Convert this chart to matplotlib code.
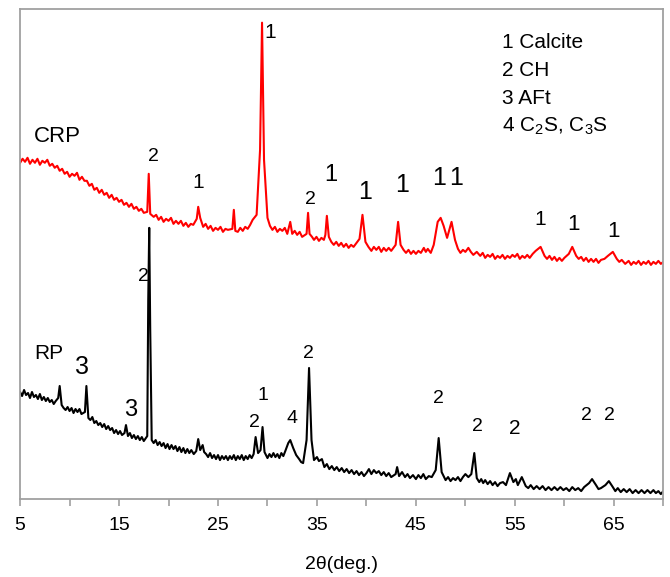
"""
XRD patterns of RP and CRP pastes
"""
import matplotlib
matplotlib.use('Agg')
import matplotlib.pyplot as plt

plt.rcParams['font.family'] = ['Liberation Sans', 'DejaVu Sans']
plt.rcParams['mathtext.fontset'] = 'custom'
plt.rcParams['mathtext.rm'] = 'Liberation Sans'
plt.rcParams['mathtext.it'] = 'Liberation Sans'
plt.rcParams['mathtext.default'] = 'regular'

# CRP pattern (2theta in deg, intensity in a.u., offset trace)
crp_2theta = [5.0, 5.25, 5.5, 5.75, 6.0, 6.25, 6.5, 6.75, 7.0, 7.25, 7.5, 7.75, 8.0, 8.25,
              8.5, 8.75, 9.0, 9.25, 9.5, 9.75, 10.0, 10.25, 10.5, 10.75, 11.0, 11.25, 11.5,
              11.75, 12.0, 12.25, 12.5, 12.75, 13.0, 13.25, 13.5, 13.75, 14.0, 14.25, 14.5,
              14.75, 15.0, 15.25, 15.5, 15.75, 16.0, 16.25, 16.5, 16.75, 17.0, 17.25, 17.5,
              17.85, 18.0, 18.15, 18.5, 18.75, 19.0, 19.25, 19.5, 19.75, 20.0, 20.25, 20.5,
              20.75, 21.0, 21.25, 21.5, 21.75, 22.0, 22.25, 22.5,
              22.85, 23.0, 23.2, 23.5, 23.75, 24.0, 24.25, 24.5, 24.75, 25.0, 25.25, 25.5,
              25.75, 26.0, 26.45, 26.6, 26.75,
              27.0, 27.25, 27.5, 27.75, 28.0, 28.25, 28.5, 28.9, 29.25, 29.45, 29.65, 30.0,
              30.25, 30.5, 30.75, 31.0, 31.25, 31.5, 31.75,
              32.0, 32.3, 32.5, 32.75, 33.0, 33.25, 33.5, 33.95, 34.1, 34.25, 34.5, 34.7,
              34.95, 35.2, 35.45, 35.7, 35.85,
              36.0, 36.2, 36.45, 36.7, 36.95, 37.2, 37.45, 37.7, 37.95, 38.2, 38.45, 38.7,
              39.0, 39.3, 39.6, 39.9, 40.2, 40.5, 40.75, 41.0,
              41.25, 41.5, 41.75, 42.0, 42.25, 42.5, 42.95, 43.2, 43.45, 43.75, 44.0, 44.25,
              44.5, 44.75, 45.0, 45.25, 45.5, 45.8, 46.0, 46.2, 46.5,
              46.8, 47.2, 47.5, 47.8, 48.15, 48.6, 48.95, 49.25, 49.5, 49.75, 50.0, 50.3,
              50.55, 50.8, 51.15, 51.5, 51.75,
              52.0, 52.25, 52.5, 52.75, 53.0, 53.25, 53.5, 53.75, 54.0, 54.25, 54.5, 54.75,
              55.0, 55.25, 55.5, 55.75, 56.0, 56.25, 56.5, 56.8, 57.1, 57.6,
              58.0, 58.25, 58.5, 58.75, 59.0, 59.25, 59.5, 59.75, 60.0, 60.45, 60.8, 61.2,
              61.45, 61.7, 61.95, 62.2, 62.45, 62.7, 62.95, 63.2,
              63.45, 63.7, 64.05, 64.4, 64.9, 65.3, 65.55, 65.8, 66.15, 66.5, 66.75, 67.0,
              67.25, 67.5, 67.75, 68.0, 68.25, 68.5, 68.75, 69.0, 69.25, 69.5, 69.75,
              70.0]
crp_intensity = [336, 340, 337, 341, 335, 339, 336, 340, 334, 338, 336, 339, 333, 335,
                 331, 333, 328, 330, 325, 327, 322, 325, 323, 326, 319, 322, 318,
                 318, 313, 315, 309, 311, 306, 309, 304, 306, 301, 304, 299,
                 301, 297, 299, 294, 296, 292, 295, 290, 292, 288, 290, 286,
                 287, 325, 285, 282, 284, 279, 282, 277, 280, 278, 281, 275,
                 278, 275, 278, 273, 276, 272, 275, 274,
                 280, 292, 281, 272, 275, 270, 273, 268, 271, 269, 272, 267,
                 270, 269, 270, 289, 268,
                 267, 271, 268, 272, 270, 274, 279, 284, 349, 476, 339, 281,
                 273, 269, 272, 267, 270, 268, 271,
                 265, 277, 265, 268, 264, 267, 262, 265, 286, 265, 262, 259,
                 262, 258, 261, 259, 264,
                 283, 262, 257, 254, 257, 253, 256, 252, 255, 251, 254, 252,
                 256, 260, 284, 257, 252, 248, 252, 249,
                 252, 247, 251, 248, 251, 248, 254, 277, 254, 249, 246, 249,
                 245, 248, 245, 248, 246, 251, 247, 250, 246,
                 254, 277, 281, 273, 261, 277, 259, 250, 246, 249, 247, 251,
                 247, 244, 247, 243, 246,
                 241, 244, 242, 245, 240, 243, 241, 244, 240, 243, 241, 244,
                 242, 245, 240, 243, 241, 244, 241, 245, 248, 252,
                 243, 240, 243, 239, 242, 238, 241, 238, 241, 245, 252, 243,
                 240, 242, 238, 241, 237, 240, 237, 240,
                 236, 239, 240, 243, 247, 240, 237, 239, 235, 238, 234, 237,
                 235, 238, 234, 237, 235, 238, 234, 237, 235, 238, 235,
                 237]

# RP pattern
rp_2theta = [5.0, 5.2, 5.4, 5.6, 5.8, 6.0, 6.2, 6.4, 6.6, 6.8, 7.0, 7.2, 7.4, 7.6, 7.8,
             8.0, 8.2, 8.4, 8.6, 8.85, 9.0, 9.2, 9.4, 9.6, 9.8,
             10.0, 10.2, 10.4, 10.6, 10.8, 11.0, 11.2, 11.55, 11.7, 11.9, 12.1, 12.3, 12.5,
             12.7, 12.9, 13.1, 13.3, 13.5, 13.7, 13.9,
             14.1, 14.3, 14.5, 14.7, 14.9, 15.1, 15.3, 15.55, 15.7, 15.9, 16.1, 16.3, 16.5,
             16.7, 16.9, 17.1, 17.3, 17.5, 17.85, 17.95,
             18.05, 18.15, 18.3, 18.5, 18.7, 18.9, 19.1, 19.3, 19.5, 19.7, 19.9, 20.1, 20.3,
             20.5, 20.7, 20.9, 21.1, 21.3, 21.5, 21.7, 21.9,
             22.1, 22.3, 22.55, 22.8, 23.0, 23.2, 23.45, 23.6, 23.8, 24.0, 24.2, 24.4, 24.6,
             24.8, 25.0, 25.2, 25.4, 25.6, 25.8,
             26.0, 26.2, 26.4, 26.6, 26.8, 27.0, 27.2, 27.4, 27.6, 27.8, 28.0, 28.2, 28.4,
             28.6, 28.8, 29.05, 29.3, 29.5, 29.7,
             30.0, 30.2, 30.4, 30.6, 30.8, 31.0, 31.2, 31.4, 31.6, 31.8, 32.1, 32.3, 32.6,
             32.9, 33.2, 33.4, 33.6, 33.95,
             34.2, 34.45, 34.7, 35.0, 35.2, 35.5, 35.75, 36.0, 36.25, 36.5, 36.75, 37.0,
             37.25, 37.5, 37.75, 38.0, 38.25, 38.5,
             38.75, 39.0, 39.25, 39.5, 39.75, 40.0, 40.25, 40.5, 40.75, 41.0, 41.25, 41.5,
             41.75, 42.0, 42.25, 42.5, 42.95, 43.1, 43.3, 43.6, 43.9,
             44.15, 44.4, 44.7, 45.0, 45.25, 45.5, 45.75, 46.0, 46.3, 46.6, 47.0, 47.3,
             47.6, 48.0, 48.25, 48.5, 48.75, 49.0, 49.25, 49.5,
             49.75, 50.0, 50.3, 50.6, 50.9, 51.15, 51.4, 51.6, 51.8, 52.0, 52.25, 52.5,
             52.75, 53.0, 53.25, 53.5, 53.8, 54.1, 54.5, 54.85,
             55.1, 55.3, 55.7, 56.1, 56.35, 56.6, 56.9, 57.2, 57.5, 57.8, 58.1, 58.4,
             58.7, 59.0, 59.3, 59.6, 59.9, 60.2, 60.5, 60.8, 61.1, 61.4,
             61.7, 62.0, 62.5, 62.8, 63.2, 63.45, 63.7, 64.15, 64.5, 64.9, 65.15, 65.4,
             65.7, 66.0, 66.3, 66.6, 66.9, 67.2,
             67.5, 67.8, 68.1, 68.4, 68.7, 69.0, 69.25, 69.5, 69.75, 70.0]
rp_intensity = [107, 103, 109, 104, 106, 101, 107, 102, 104, 100, 105, 99, 102, 98, 101,
                97, 99, 95, 98, 101, 113, 94, 91, 89, 92,
                88, 91, 86, 90, 87, 90, 85, 87, 113, 81, 79, 82, 76,
                78, 74, 76, 72, 75, 70, 73,
                69, 71, 66, 69, 65, 68, 64, 66, 74, 63, 66, 61, 64,
                60, 63, 59, 62, 58, 63, 199,
                271, 169, 59, 56, 59, 54, 57, 53, 56, 51, 55, 50, 54,
                50, 53, 48, 52, 47, 51, 46, 50,
                46, 49, 45, 48, 60, 49, 54, 47, 45, 42, 46, 41, 44,
                40, 44, 39, 43, 40, 43,
                39, 43, 40, 44, 39, 43, 40, 44, 39, 43, 40, 44, 41,
                45, 62, 46, 49, 72, 47,
                41, 45, 42, 46, 42, 45, 41, 46, 43, 48, 56, 59, 51,
                44, 40, 37, 36, 59,
                131, 59, 39, 42, 38, 40, 32, 35, 30, 33, 29, 32,
                28, 31, 27, 30, 26, 29,
                25, 28, 24, 27, 23, 26, 30, 25, 29, 26, 28, 24,
                27, 23, 26, 22, 25, 32, 23, 27, 22,
                25, 21, 24, 20, 24, 21, 25, 20, 23, 22, 29, 61,
                27, 19, 22, 18, 21, 19, 22, 18,
                22, 25, 22, 25, 46, 21, 17, 20, 16, 19, 15, 18,
                14, 17, 13, 16, 17, 14, 26, 17,
                20, 14, 22, 13, 11, 14, 10, 13, 10, 13, 9, 12,
                9, 12, 9, 12, 9, 11, 8, 12, 9, 11,
                8, 12, 16, 20, 14, 10, 11, 14, 18, 12, 8, 11,
                7, 10, 7, 10, 6, 9,
                6, 9, 6, 9, 6, 9, 6, 8, 5, 8]

x_ticks = [5, 15, 25, 35, 45, 55, 65]

# peak labels: text, 2theta, intensity, font size
crp_labels = [('CRP', 8.74, 362, 16), ('2', 18.45, 342, 14), ('1', 23.0, 316, 15),
              ('1', 30.28, 466, 15), ('2', 34.32, 299, 14), ('1', 36.35, 324, 17),
              ('1', 39.88, 307, 18), ('1', 43.62, 314, 18), ('1', 47.37, 321, 18),
              ('1', 49.08, 321, 18), ('1', 57.58, 279, 15), ('1', 60.92, 274, 16),
              ('1', 64.96, 267, 16)]
rp_labels = [('RP', 7.93, 145, 15), ('3', 11.27, 132, 18), ('3', 16.22, 89, 17),
             ('2', 17.44, 222, 14), ('2', 28.66, 77, 14), ('1', 29.57, 104, 14),
             ('4', 32.50, 81, 14), ('2', 34.12, 145, 14), ('2', 47.27, 101, 14),
             ('2', 51.21, 73, 14), ('2', 54.95, 71, 15), ('2', 62.23, 84, 14),
             ('2', 64.56, 84, 14)]
phase_legend = ['1 Calcite', '2 CH', '3 AFt', '4 C$_2$S, C$_3$S']

fig = plt.figure(figsize=(6.7, 5.77), dpi=100)
ax = fig.add_axes([0.030, 0.135, 0.960, 0.850])

ax.plot(crp_2theta, crp_intensity, color='#ff0000', linewidth=1.5)
ax.plot(rp_2theta, rp_intensity, color='black', linewidth=1.5)

for txt, x, y, fs in crp_labels + rp_labels:
    ax.text(x, y, txt, ha='center', va='center', fontsize=fs)

for i, line in enumerate(phase_legend):
    ax.text(53.74, 456 - 28 * i, line, ha='left', va='center', fontsize=15)

ax.set_xlim(5, 70)
ax.set_ylim(0, 490)
ax.set_xticks(x_ticks)
ax.set_xticks([10, 20, 30, 40, 50, 60, 70], minor=True)
ax.set_yticks([])
ax.tick_params(axis='x', which='both', direction='out', length=5, width=1.2,
               color='#a0a0a0', labelsize=14, pad=8)
for sp in ax.spines.values():
    sp.set_color('#a0a0a0')
    sp.set_linewidth(1.3)
ax.set_xlabel('2θ(deg.)', fontsize=14, labelpad=16)

plt.savefig('out.png', dpi=100)
